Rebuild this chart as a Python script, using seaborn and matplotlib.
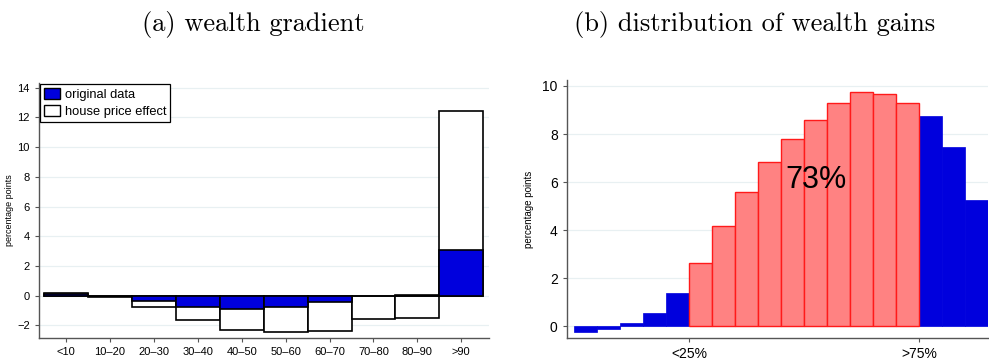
"""
财富梯度与财富增益分布：两幅柱状图并排
"""
import matplotlib
matplotlib.use('Agg')

import matplotlib.pyplot as plt
import seaborn as sns
import numpy as np
import pandas as pd
from matplotlib.patches import Patch

sns.set_style('white')
plt.rcParams['font.family'] = ['Liberation Sans', 'DejaVu Sans']
plt.rcParams['axes.unicode_minus'] = True
plt.rcParams['text.color'] = 'black'
plt.rcParams['axes.labelcolor'] = 'black'
plt.rcParams['xtick.color'] = 'black'
plt.rcParams['ytick.color'] = 'black'

# ============================================================
# 数据
# ============================================================
# (a) 财富梯度：各财富分位组
groups = ['<10', '10–20', '20–30', '30–40', '40–50',
          '50–60', '60–70', '70–80', '80–90', '>90']
original_data = [0.12, -0.05, -0.38, -0.74, -0.90, -0.76, -0.43, -0.03, 0.04, 3.09]
house_price_effect = [0.15, -0.10, -0.74, -1.66, -2.28, -2.42, -2.35, -1.54, -1.50, 12.44]

# (b) 财富增益分布：18 个 5% 的分位区间
gain_bins = list(range(18))
gain_values = [-0.24, -0.10, 0.14, 0.55, 1.38,
               2.65, 4.17, 5.61, 6.83, 7.80, 8.57, 9.28, 9.74, 9.65, 9.28,
               8.75, 7.45, 5.26]
gain_middle = [False] * 5 + [True] * 10 + [False] * 3
gain_ticks = [4.5, 14.5]
gain_ticklabels = ['<25%', '>75%']
share_label = '73%'

BLUE = '#0000dd'
SALMON = '#ff8282'
RED = '#ff1a1a'
GRID = '#e8f0f2'
SPINE = '#555555'

fig = plt.figure(figsize=(9.89, 3.6), dpi=100)

# ============================================================
# (a) wealth gradient
# ============================================================
ax1 = fig.add_axes([0.0394, 0.061, 0.455, 0.708])
df_a = pd.DataFrame({'group': groups, 'orig': original_data, 'house': house_price_effect})

sns.barplot(data=df_a, x='group', y='house', order=groups, color='white',
            edgecolor='black', linewidth=1.2, width=1, saturation=1, ax=ax1)
sns.barplot(data=df_a, x='group', y='orig', order=groups, color=BLUE,
            edgecolor='black', linewidth=1.2, width=1, saturation=1, ax=ax1)

ax1.set_xlim(-0.62, 9.63)
ax1.set_ylim(-2.85, 14.3)
ax1.set_yticks(np.arange(-2, 15, 2))
ax1.set_axisbelow(True)
ax1.yaxis.grid(True, color=GRID, linewidth=0.9)
ax1.set_xlabel('')
ax1.set_ylabel('percentage points', fontsize=6.5, labelpad=2)
ax1.tick_params(axis='both', labelsize=8, length=3, width=0.8,
                direction='out', bottom=True, left=True, color=SPINE)
for s in ['top', 'right']:
    ax1.spines[s].set_visible(False)
for s in ['left', 'bottom']:
    ax1.spines[s].set_color(SPINE)
    ax1.spines[s].set_linewidth(1.0)

handles = [Patch(facecolor=BLUE, edgecolor='black', label='original data'),
           Patch(facecolor='white', edgecolor='black', label='house price effect')]
leg = ax1.legend(handles=handles, loc='upper left', fontsize=9.3, fancybox=False,
                 framealpha=1, edgecolor='black', borderaxespad=0.1,
                 handlelength=1.2, handleheight=0.95, handletextpad=0.4,
                 borderpad=0.3, labelspacing=0.3)
leg.get_frame().set_linewidth(0.9)

# ============================================================
# (b) distribution of wealth gains
# ============================================================
ax2 = fig.add_axes([0.573, 0.061, 0.426, 0.717])
df_b = pd.DataFrame({'bin': gain_bins, 'value': gain_values, 'middle': gain_middle})

sns.barplot(data=df_b[~df_b['middle']], x='bin', y='value', native_scale=True,
            color=BLUE, edgecolor=BLUE, linewidth=0.5, width=1, saturation=1, ax=ax2)
sns.barplot(data=df_b[df_b['middle']], x='bin', y='value', native_scale=True,
            color=SALMON, edgecolor=RED, linewidth=1.0, width=1, saturation=1, ax=ax2)

ax2.text(10, 6.1, share_label, fontsize=22, ha='center', va='center', color='black')

ax2.set_xlim(-0.82, 17.5)
ax2.set_ylim(-0.48, 10.25)
ax2.set_yticks(np.arange(0, 11, 2))
ax2.set_xticks(gain_ticks)
ax2.set_xticklabels(gain_ticklabels)
ax2.set_axisbelow(True)
ax2.yaxis.grid(True, color=GRID, linewidth=0.9)
ax2.set_xlabel('')
ax2.set_ylabel('percentage points', fontsize=7, labelpad=6)
ax2.tick_params(axis='both', labelsize=10, length=3, width=0.8,
                direction='out', bottom=True, left=True, color=SPINE)
for s in ['top', 'right']:
    ax2.spines[s].set_visible(False)
for s in ['left', 'bottom']:
    ax2.spines[s].set_color(SPINE)
    ax2.spines[s].set_linewidth(1.0)

# 标题（衬线字体）
fig.text(253 / 989, 1 - 24 / 360, '(a) wealth gradient', fontsize=19,
         family=['cmr10', 'DejaVu Serif'], ha='center', va='center')
fig.text(755 / 989, 1 - 24 / 360, '(b) distribution of wealth gains', fontsize=19,
         family=['cmr10', 'DejaVu Serif'], ha='center', va='center')

fig.savefig('out.png', dpi=100)
